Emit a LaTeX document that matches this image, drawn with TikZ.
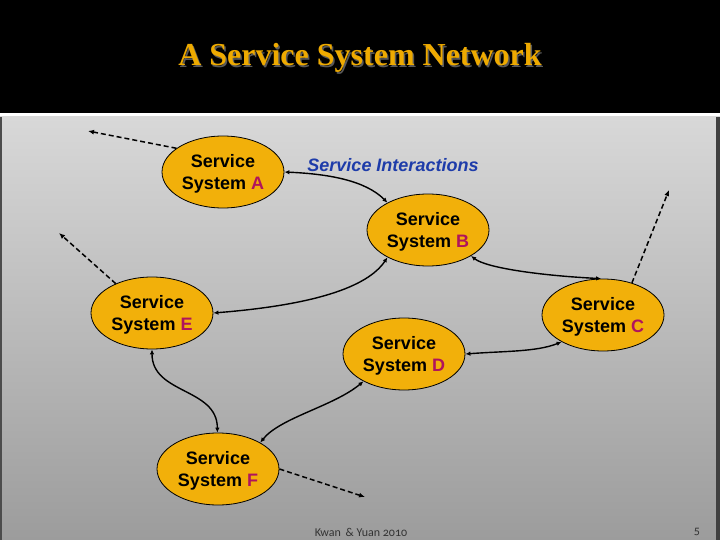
\documentclass[tikz,border=0pt]{standalone}
\usepackage{fontspec}
\setmainfont{Liberation Sans}
\newfontfamily\titlefont{Liberation Serif}
\newfontfamily\footfont[Numbers=OldStyle]{Carlito}
\usetikzlibrary{shapes.geometric,arrows.meta}
\definecolor{gold}{RGB}{238,170,0}
\definecolor{nodefill}{RGB}{242,176,10}
\definecolor{letter}{RGB}{176,20,92}
\definecolor{iblue}{RGB}{30,60,170}
\definecolor{panelTop}{RGB}{216,216,216}
\definecolor{panelBot}{RGB}{156,156,156}
\tikzset{
  sysnode/.style={ellipse,draw=black,line width=0.8pt,fill=nodefill,
    minimum width=122pt,minimum height=72pt,inner sep=0pt,align=center,
    font=\fontsize{18}{22}\selectfont\bfseries},
  link/.style={line width=1.4pt,{Latex[length=5pt,width=4.5pt]}-{Latex[length=5pt,width=4.5pt]}},
  outlink/.style={line width=1.5pt,dash pattern=on 5pt off 3pt,-{Latex[length=6pt,width=5pt]}},
}
\newcommand{\sysl}[1]{\rule{0pt}{17pt}Service\\System \textcolor{letter}{#1}}
\begin{document}
\begin{tikzpicture}[x=1pt,y=-1pt]
\useasboundingbox (0,0) rectangle (720,540);
% header
\fill[black] (0,0) rectangle (720,113);
\fill[white] (0,113) rectangle (720,116);
\fill[black!70] (0,116) rectangle (720,117);
% panel
\shade[top color=panelTop,bottom color=panelBot] (0,117) rectangle (720,540);
\fill[black!70] (0,117) rectangle (2,540);
\fill[black!75] (716,117) rectangle (720,540);
% title
\node[text=black!65,font=\titlefont\fontsize{32}{36}\selectfont\bfseries] at (361.5,59.5) {A Service System Network};
\node[text=gold,font=\titlefont\fontsize{32}{36}\selectfont\bfseries] (title) at (360,58) {A Service System Network};
% nodes
\node[sysnode] (A) at (223,172) {\sysl{A}};
\node[sysnode] (B) at (428,230) {\sysl{B}};
\node[sysnode] (C) at (603,315) {\sysl{C}};
\node[sysnode] (D) at (404,354) {\sysl{D}};
\node[sysnode] (E) at (152,313) {\sysl{E}};
\node[sysnode] (F) at (218,469) {\sysl{F}};
\node[text=iblue,font=\fontsize{18}{22}\selectfont\bfseries\itshape] (si) at (393,165) {Service Interactions};
% free ends
\coordinate (tA) at (88,131);
\coordinate (tC) at (669,190);
\coordinate (tE) at (59,233);
\coordinate (tF) at (365,497);
% dashed outgoing
\draw[outlink] (A.153) -- (tA);
\draw[outlink] (C.48) -- (tC);
\draw[outlink] (E.141) -- (tE);
\draw[outlink] (F.0) -- (tF);
% interactions
\draw[link] (A.0) .. controls +(45,2) and +(-22,-22) .. (B.146);
\draw[link] (B.-31) .. controls +(15,12) and +(-60,-3) .. (C.93);
\draw[link] (E.0) .. controls +(100,-8) and +(-20,30) .. (B.-146);
\draw[link] (D.0) .. controls +(40,-3) and +(-25,10) .. (C.-147);
\draw[link] (E.-90) .. controls +(0,45) and +(0,-45) .. (F.91);
\draw[link] (F.32) .. controls +(20,-25) and +(-30,25) .. (D.-146);
% footer
\node[text=black!80,font=\footfont\fontsize{12}{14}\selectfont] (foot) at (361,532) {Kwan \,\& Yuan 2010};
\node[text=black!80,font=\footfont\fontsize{12}{14}\selectfont] (pg) at (697,532) {5};
\end{tikzpicture}
\end{document}
